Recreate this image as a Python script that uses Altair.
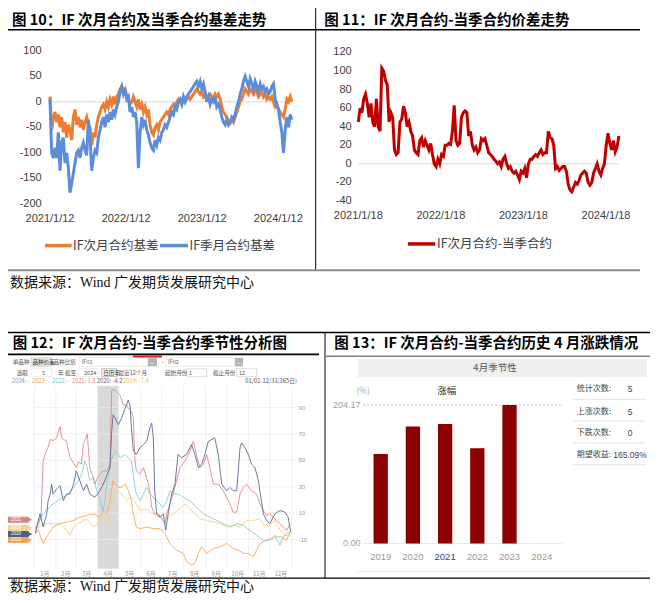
import altair as alt
import pandas as pd

# ======================= DATA =======================
# Figure 10: IF basis, sampled every 8 days from 2021/1/12
FIG10_START = "2021-01-12"
SAMPLE_FREQ = "8D"
IF_NEXT_MONTH_BASIS = [
    10, -55, -30, -20, -40, -25, -50, -30, -60, -40,
    -70, -45, -55, -75, -30, -15, -45, -30, -50, -35,
    -55, -40, -30, -45, -50, -85, -60, -70, -45, -30,
    -20, -10, -5, -15, 0, -10, 5, -5, 10, -5,
    10, 15, 25, 30, 20, 25, 10, 5, -5, 0,
    10, 0, -10, 5, -15, -5, -20, -10, -25, -15,
    -45, -60, -65, -50, -45, -55, -40, -35, -30, -25,
    -20, -25, -15, -10, -5, -10, 0, 5, 0, -5,
    5, 0, 5, 10, 5, 10, 15, 20, 25, 20,
    15, 20, 10, 15, 5, 10, 15, 10, 5, 15,
    10, 15, 5, -10, -20, -25, -30, -38, -42, -35,
    -40, -30, -20, -10, 0, 5, 15, 25, 20, 15,
    25, 20, 15, 25, 20, 10, 15, 20, 10, 15,
    5, 10, 5, 10, 0, -10, -5, -15, -20, -25,
    -30, -15, 5, 0, 10, 0,
]
IF_QUARTER_MONTH_BASIS = [
    5, -100, -110, -90, -110, -60, -135, -80, -70, -120,
    -100, -130, -178, -160, -140, -120, -100, -95, -110, -90,
    -80, -95, -105, -35, -70, -135, -110, -95, -100, -70,
    -55, -40, -30, -50, -25, -40, -20, -35, -15, -25,
    -10, 0, 20, 30, 15, 25, 5, 10, -20, -10,
    -30, -20, -40, -130, -60, -30, -45, -35, -55, -65,
    -80, -90, -95, -75, -85, -70, -75, -60, -55, -45,
    -50, -40, -30, -20, -25, -10, -15, 0, 5, -5,
    10, 0, 10, 15, 20, 25, 30, 35, 40, 30,
    40, 25, 35, 20, 0, 10, -5, 5, 0, 10,
    -10, -5, -15, -30, -40, -45, -35, -45, -40, -30,
    -35, -25, -10, 0, 15, 25, 40, 50, 40, 30,
    45, 35, 25, 40, 30, 20, 35, 25, 30, 20,
    25, 15, 20, 30, 35, 5, -5, -15, -40, -60,
    -100, -55, -30, -50, -25, -35,
]
FIG10_YTICKS = [100, 50, 0, -50, -100, -150, -200]
FIG10_XTICK_DATES = ["2021-01-12", "2022-01-12", "2023-01-12", "2024-01-12"]
FIG10_XTICK_LABELS = ["2021/1/12", "2022/1/12", "2023/1/12", "2024/1/12"]
FIG10_SERIES = ["IF次月合约基差", "IF季月合约基差"]

# Figure 11: IF next-month minus current-quarter spread, every 8 days from 2021/1/18
FIG11_START = "2021-01-18"
IF_NEXT_MINUS_QUARTER = [
    45, 60, 55, 70, 75, 65, 50, 65, 45, 40,
    70, 40, 35, 103, 100, 90, 85, 45, 55, 50,
    15, 10, 12, 45, 48, 62, 55, 40, 45, 35,
    30, 15, 12, 10, 25, 28, 18, 25, 20, 15,
    22, 10, 0, -3, 5, 0, 10, 8, 20, 20,
    22, 21, 35, 63, 25, 20, 22, 50, 55, 57,
    55, 30, 35, 20, 15, 18, 12, 15, 27, 25,
    27, 20, 12, 10, 8, 5, 3, 0, 2, -3,
    5, 8, 0, -5, -3, -8, -10, -8, -12, -17,
    -8, -10, -5, -15, 0, 5, 5, 8, 10, 8,
    12, 15, 10, 12, 12, 35, 28, 27, 20, -5,
    -3, -7, -5, -3, -3, -8, -22, -28, -30, -25,
    -20, -22, -18, -12, -10, -8, -10, -20, -23, -20,
    -10, -5, 0, -8, -12, -5, 0, 20, 33, 22,
    15, 25, 13, 18, 30,
]
FIG11_YTICKS = [120, 100, 80, 60, 40, 20, 0, -20, -40]
FIG11_XTICK_DATES = ["2021-01-18", "2022-01-18", "2023-01-18", "2024-01-18"]
FIG11_XTICK_LABELS = ["2021/1/18", "2022/1/18", "2023/1/18", "2024/1/18"]
FIG11_SERIES = "IF次月合约-当季合约"

# Figure 12: seasonal overlay, (day of year, value)
SEASON_2021 = [(2, -1), (6, 2), (10, 8), (13, 50), (16, 55), (20, 60), (23, 66), (27, 65), (32, 67), (37, 75.7),
               (39, 67), (46, 64.5), (51, 52), (56, 48), (60, 44.5), (63, 49), (67, 47), (70, 62), (75.5, 70), (79, 44.5),
               (84, 37), (86, 32), (89, 35.7), (93.5, 39.5), (98, 42), (103, 42), (107.6, 47), (110, 103), (112, 103.75), (115, 103),
               (117, 102), (119.5, 101), (122, 99.5), (126.5, 92), (131, 92), (133.6, 89.5), (138, 87), (140.7, 82), (143, 49.5), (145, 42),
               (150, 39.5), (155, 44.5), (162, 32), (164, 27), (166.7, 14.5), (171, 9.5), (176, 9.5), (181, 5.75), (185.5, 2), (188, 9.5),
               (192.6, 17), (197, 24.5), (206.8, 44.5), (214, 49.5), (221, 57), (225.7, 64.5), (230, 54.5), (235, 44.5), (240, 47), (244.6, 54.5),
               (249, 44.5), (254, 32), (261, 32), (268, 27), (277.6, 17), (282, 10.75), (287, 10.75), (291.8, 24.5), (296.5, 29.5), (301, 32),
               (308.3, 27), (315.4, 24.5), (320, 17), (324.8, 12), (329.5, 8.25), (334, 9.5), (341.4, 5.75), (348.4, 2), (353, -0.5), (357.9, -3),
               (362.6, 1.8)]
SEASON_2020 = [(2, -5.5), (6, 4.5), (8.5, 9.5), (13, -0.5), (18, 9.5), (20, 19.5), (23, 24.5), (25, 32), (27, 24.5), (32, 28.25),
               (37, 30.75), (41.5, 19.5), (46, 24.5), (51, 24.5), (56, 32), (60, 42), (65, 34.5), (70, 27), (74.6, 32), (79, 24.5),
               (86, 22), (93.5, 27), (98, 32), (103, 38.25), (107.6, 44.5), (110, 72), (112, 84.5), (115, 82), (119.5, 77), (124, 82),
               (129, 89.5), (133.6, 95.75), (136, 92), (138, 74.5), (140.7, 57), (145, 54.5), (150, 59.5), (155, 62), (159.6, 64.5), (164, 74.5),
               (166.7, 78.25), (169, 67), (171, 27), (173.7, 9.5), (178.5, 7), (183, 9.5), (186.5, -3), (190, 9.5), (195, 24.5), (199.7, 32),
               (204, 54.5), (209, 52), (216, 54.5), (223, 62), (228, 54.5), (232.8, 44.5), (237.5, 47), (242, 54.5), (247, 64.5), (256, 67),
               (261, 54.5), (265.8, 32), (273, 27), (277.6, 29.5), (282, 27), (287, 27), (291.8, 59.5), (294, 63.25), (298.9, 59.5), (303.6, 54.5),
               (308.3, 47), (313, 44.5), (317.8, 34.5), (324.8, 9.5), (329.5, 4.5), (334, 2), (341.4, 9.5), (348.4, 12), (355.5, 10.75), (360, 7),
               (363.5, -4.2)]
SEASON_2022 = [(2, -3), (6, 2), (13, 9.5), (20, 13.25), (27, 17), (34.5, 19.5), (41.5, 22), (48.6, 24.5), (56, 29.5), (63, 34.5),
               (67.5, 39.5), (72, 49.5), (75.5, 44.5), (79, 34.5), (84, 37), (89, 27), (93.5, 19.5), (98, 12), (100.6, 19.5), (103, 32),
               (107.6, 47), (112, 54.5), (117, 57), (122, 52), (129, 54.5), (133.6, 52), (138, 49.5), (143, 29.5), (145, 24.5), (150, 19.5),
               (155, 24.5), (159.6, 29.5), (164, 24.5), (169, 22), (173.7, 19.5), (178.5, 17), (183, 14.5), (188, 19.5), (192.6, 27), (197, 24.5),
               (204, 24.5), (211.5, 22), (221, 19.5), (230, 14.5), (240, 9.5), (249, 7), (258.7, 4.5), (268, 2), (277.6, -0.5), (287, 2),
               (296.5, 0.75), (306, -3), (315.4, -6.75), (324.8, -10.5), (334, -10.5), (341.4, -6.75), (348.4, -14.25), (353, -8), (357.9, -5.5), (362.6, -4.25)]
SEASON_2023 = [(2, -5.5), (6, -3), (13, -13), (18, -8), (27, -0.5), (37, 2), (46, 3.25), (56, 4.5), (65, 7), (74.6, 8.25),
               (84, 9.5), (93.5, 7), (98, 12), (103, 9.5), (107.6, 19.5), (112, 34.5), (115, 32), (119.5, 29.5), (124, 29.5), (129, 32),
               (133.6, 27), (138, 19.5), (140.7, 9.5), (145, -0.5), (150, -1.75), (159.6, -0.5), (169, -1.75), (178.5, -1.75), (185.5, -5.5), (192.6, -13),
               (202, -18), (211.5, -20.5), (216, -26.75), (223, -29.25), (228, -28), (232.8, -20.5), (237.5, -15.5), (244.6, -20.5), (254, -16.75), (263.5, -15.5),
               (273, -13), (282, -16.75), (289.4, -18), (296.5, -20.5), (303.6, -20.5), (310.7, -23), (315.4, -18), (320, -13), (329.5, -10.5), (336.6, -9.25),
               (343.7, -8), (350.8, -8), (357.9, -10.5), (362.6, -4.25)]
SEASON_2019 = [(2, -4.25), (8.5, 0.75), (18, 2), (27, 2), (37, 2), (46, -3), (51, -6.75), (56, -0.5), (63, 2), (70, 4.5),
               (74.6, 5.75), (84, -0.5), (91, 2), (98, 7), (105, 2), (112, 24.5), (117, 27), (124, 24.5), (131, 19.5), (138, 22),
               (145, 17), (150, 12), (159.6, 13.25), (169, 9.5), (178.5, 7), (188, 5.75), (197, 9.5), (206.8, 13.25), (214, 17), (218.6, 14.5),
               (225.7, 10.75), (235, 5.75), (244.6, 4.5), (254, 3.25), (263.5, 2), (273, -0.5), (282, 0.75), (291.8, -0.5), (301, 4.5), (310.7, 4.5),
               (320, 5.75), (327, -0.5), (334, 0.75), (341.4, 4.5), (348.4, -3), (355.5, -6.75), (362.6, -7.4)]
SEASON_LEGEND = ["2024: -", "2023: -", "2022: -", "2021: 1.8", "2020: -4.2", "2019: -7.4"]
SEASON_FLAGS = [("2021", 5.0), ("2019", -1.2), ("2020", -5.9), ("2023", -10.4)]
MONTH_STARTS = [0, 31, 59, 90, 120, 151, 181, 212, 243, 273, 304, 334, 365]
MONTH_MIDS = [15.5, 45, 74.5, 105, 135.5, 166, 196.5, 227.5, 258, 288.5, 319, 349.5]
MONTH_LABELS = ["1月", "2月", "3月", "4月", "5月", "6月", "7月", "8月", "9月", "10月", "11月", "12月"]
FIG12_YTICKS = [90, 70, 50, 30, 10, -10]
APRIL_WINDOW = (90, 120)

# Figure 13: April change of the spread by year (%)
YEARS = ["2019", "2020", "2021", "2022", "2023", "2024"]
APRIL_CHANGE = [132.0, 172.4, 176.3, 140.6, 204.17]
FIG13_YTICKS = [(204.17, "204.17"), (0, "0.00")]
STAT_LABELS = ["统计次数:", "上涨次数:", "下跌次数:", "期望收益:"]
STAT_VALUES = ["5", "5", "0", "165.09%"]

TITLES = [
    "图 10：IF 次月合约及当季合约基差走势",
    "图 11：IF 次月合约-当季合约价差走势",
    "图 12：IF 次月合约-当季合约季节性分析图",
    "图 13：IF 次月合约-当季合约历史 4 月涨跌情况",
]
SOURCE = "数据来源：Wind  广发期货发展研究中心"

# ======================= HELPERS =======================
# reference-page pixel -> chart pixel (page has an 8px margin)
def PX(v):
    return v - 8


def PY(v):
    if v <= 270.5:
        return 12.5 + 0.9693 * (v - 12.8)
    return 0.989 * v - 5.2


ONE = pd.DataFrame({"k": [0]})
CJK = "Noto Sans CJK SC"
LAT = "Liberation Sans"
SERIF = "Liberation Serif, Noto Sans CJK SC"


def text(t, x, y, size=11, color="#000", align="left", weight="normal", font=CJK):
    return alt.Chart(ONE).mark_text(
        text=t, align=align, baseline="middle", fontSize=size, color=color,
        fontWeight=weight, font=font,
    ).encode(x=alt.value(PX(x)), y=alt.value(PY(y)))


def hline(x1, x2, y, color="#000", width=1.0, dash=None):
    kw = dict(color=color, strokeWidth=width)
    if dash:
        kw["strokeDash"] = dash
    return alt.Chart(ONE).mark_rule(**kw).encode(
        x=alt.value(PX(x1)), x2=alt.value(PX(x2)), y=alt.value(PY(y)))


def vline(x, y1, y2, color="#000", width=1.0):
    return alt.Chart(ONE).mark_rule(color=color, strokeWidth=width).encode(
        x=alt.value(PX(x)), y=alt.value(PY(y1)), y2=alt.value(PY(y2)))


def box(x1, x2, y1, y2, fill="#fff", stroke=None, sw=0.6):
    kw = dict(fill=fill)
    if stroke:
        kw.update(stroke=stroke, strokeWidth=sw)
    return alt.Chart(ONE).mark_rect(**kw).encode(
        x=alt.value(PX(x1)), x2=alt.value(PX(x2)), y=alt.value(PY(y1)), y2=alt.value(PY(y2)))


def ms(s):
    return int(pd.Timestamp(s).value // 10**6)


# ======================= FIGURE 10 =======================
xs10 = alt.Scale(domain=[ms("2021-01-12"), ms("2024-01-12")], range=[PX(50), PX(278.3)])
ys10 = alt.Scale(domain=[-200, 100], range=[PY(202), PY(44)], nice=False, zero=False)
d10a = pd.date_range(FIG10_START, periods=len(IF_NEXT_MONTH_BASIS), freq=SAMPLE_FREQ).strftime("%Y-%m-%d")
d10b = pd.date_range(FIG10_START, periods=len(IF_QUARTER_MONTH_BASIS), freq=SAMPLE_FREQ).strftime("%Y-%m-%d")
df10a = pd.DataFrame({"date": d10a, "v": IF_NEXT_MONTH_BASIS})
df10b = pd.DataFrame({"date": d10b, "v": IF_QUARTER_MONTH_BASIS})

zero10 = alt.Chart(pd.DataFrame({"a": [d10a[0]], "b": [d10a[-1]], "y": [0]})).mark_rule(
    color="#d9d9d9", strokeWidth=1).encode(
    x=alt.X("a:T", scale=xs10, axis=None), x2="b:T", y=alt.Y("y:Q", scale=ys10, axis=None))
line10a = alt.Chart(df10a).mark_line(color="#ED7D31", strokeWidth=3).encode(
    x=alt.X("date:T", scale=xs10, axis=None), y=alt.Y("v:Q", scale=ys10, axis=None))
line10b = alt.Chart(df10b).mark_line(color="#5B8DDB", strokeWidth=3).encode(
    x=alt.X("date:T", scale=xs10, axis=None), y=alt.Y("v:Q", scale=ys10, axis=None))
ylab10 = alt.Chart(pd.DataFrame({"v": FIG10_YTICKS, "t": [str(v) for v in FIG10_YTICKS]})).mark_text(
    align="right", baseline="middle", fontSize=11, font=LAT, color="#404040").encode(
    x=alt.value(PX(41.7)), y=alt.Y("v:Q", scale=ys10, axis=None), text="t:N")
xlab10 = alt.Chart(pd.DataFrame({"d": FIG10_XTICK_DATES, "t": FIG10_XTICK_LABELS})).mark_text(
    align="center", baseline="middle", fontSize=11, font=LAT, color="#404040").encode(
    x=alt.X("d:T", scale=xs10, axis=None), y=alt.value(PY(217.3)), text="t:N")
panel10 = alt.layer(zero10, line10a, line10b, ylab10, xlab10)

# ======================= FIGURE 11 =======================
xs11 = alt.Scale(domain=[ms("2021-01-18"), ms("2024-01-18")], range=[PX(358.3), PX(606)])
ys11 = alt.Scale(domain=[-40, 120], range=[PY(199), PY(45.7)], nice=False, zero=False)
d11 = pd.date_range(FIG11_START, periods=len(IF_NEXT_MINUS_QUARTER), freq=SAMPLE_FREQ).strftime("%Y-%m-%d")
df11 = pd.DataFrame({"date": d11, "v": IF_NEXT_MINUS_QUARTER})
zero11 = alt.Chart(pd.DataFrame({"a": [d11[0]], "b": [d11[-1]], "y": [0]})).mark_rule(
    color="#d9d9d9", strokeWidth=1).encode(
    x=alt.X("a:T", scale=xs11, axis=None), x2="b:T", y=alt.Y("y:Q", scale=ys11, axis=None))
line11 = alt.Chart(df11).mark_line(color="#C00000", strokeWidth=3).encode(
    x=alt.X("date:T", scale=xs11, axis=None), y=alt.Y("v:Q", scale=ys11, axis=None))
ylab11 = alt.Chart(pd.DataFrame({"v": FIG11_YTICKS, "t": [str(v) for v in FIG11_YTICKS]})).mark_text(
    align="right", baseline="middle", fontSize=11, font=LAT, color="#404040").encode(
    x=alt.value(PX(351.7)), y=alt.Y("v:Q", scale=ys11, axis=None), text="t:N")
xlab11 = alt.Chart(pd.DataFrame({"d": FIG11_XTICK_DATES, "t": FIG11_XTICK_LABELS})).mark_text(
    align="center", baseline="middle", fontSize=11, font=LAT, color="#404040").encode(
    x=alt.X("d:T", scale=xs11, axis=None), y=alt.value(PY(215)), text="t:N")
panel11 = alt.layer(zero11, line11, ylab11, xlab11)

# ======================= FIGURE 12 =======================
xs12 = alt.Scale(domain=[0, 365], range=[PX(34), PX(291.7)], nice=False, zero=False)
ys12 = alt.Scale(domain=[-10, 90], range=[PY(542.7), PY(409.3)], nice=False, zero=False)
Y_LO, Y_HI = -32.2, 106.5

shade12 = alt.Chart(pd.DataFrame({"a": [APRIL_WINDOW[0]], "b": [APRIL_WINDOW[1]], "lo": [Y_LO], "hi": [Y_HI]})).mark_rect(
    color="#d9d9d9").encode(
    x=alt.X("a:Q", scale=xs12, axis=None), x2="b:Q",
    y=alt.Y("lo:Q", scale=ys12, axis=None), y2="hi:Q")
hgrid12 = alt.Chart(pd.DataFrame({"v": FIG12_YTICKS, "a": 0, "b": 372})).mark_rule(
    color="#ececec", strokeWidth=0.8).encode(
    x=alt.X("a:Q", scale=xs12, axis=None), x2="b:Q", y=alt.Y("v:Q", scale=ys12, axis=None))
vgrid12 = alt.Chart(pd.DataFrame({"d": MONTH_STARTS, "lo": Y_LO, "hi": Y_HI})).mark_rule(
    color="#ececec", strokeWidth=0.8).encode(
    x=alt.X("d:Q", scale=xs12, axis=None), y=alt.Y("lo:Q", scale=ys12, axis=None), y2="hi:Q")


def season_line(pairs, color):
    df = pd.DataFrame(pairs, columns=["day", "v"])
    return alt.Chart(df).mark_line(color=color, strokeWidth=1, opacity=0.9).encode(
        x=alt.X("day:Q", scale=xs12, axis=None), y=alt.Y("v:Q", scale=ys12, axis=None))


lines12 = [
    season_line(SEASON_2019, "#EFD486"),
    season_line(SEASON_2023, "#F2A85C"),
    season_line(SEASON_2022, "#86CFCF"),
    season_line(SEASON_2021, "#E0888A"),
    season_line(SEASON_2020, "#5D6C92"),
]
mlab12 = alt.Chart(pd.DataFrame({"d": MONTH_MIDS, "t": MONTH_LABELS})).mark_text(
    fontSize=6, color="#999999", font=CJK, baseline="middle").encode(
    x=alt.X("d:Q", scale=xs12, axis=None), y=alt.value(PY(577.3)), text="t:N")
ylab12 = alt.Chart(pd.DataFrame({"v": FIG12_YTICKS, "t": [str(v) for v in FIG12_YTICKS]})).mark_text(
    fontSize=6, color="#9a9a9a", font=LAT, align="left", baseline="middle").encode(
    x=alt.value(PX(298.5)), y=alt.Y("v:Q", scale=ys12, axis=None), text="t:N")
flag_df = pd.DataFrame({
    "t": [f[0] for f in SEASON_FLAGS],
    "v": [f[1] for f in SEASON_FLAGS],
    "lo": [f[1] - 2.3 for f in SEASON_FLAGS],
    "hi": [f[1] + 2.3 for f in SEASON_FLAGS],
    "c": ["#D98585", "#F0D690", "#4E5E88", "#F0A658"],
})
flags12 = alt.Chart(flag_df).mark_rect(cornerRadius=1.5).encode(
    x=alt.value(PX(3)), x2=alt.value(PX(29)),
    y=alt.Y("lo:Q", scale=ys12, axis=None), y2="hi:Q",
    color=alt.Color("c:N", scale=None))
flagtip12 = alt.Chart(flag_df).mark_point(shape="triangle-right", filled=True, size=14, opacity=1).encode(
    x=alt.value(PX(30.5)), y=alt.Y("v:Q", scale=ys12, axis=None), color=alt.Color("c:N", scale=None))
flagtxt12 = alt.Chart(flag_df).mark_text(fontSize=4.5, color="#ffffff", font=LAT, baseline="middle").encode(
    x=alt.value(PX(16)), y=alt.Y("v:Q", scale=ys12, axis=None), text="t:N")
panel12 = alt.layer(shade12, hgrid12, vgrid12, *lines12, mlab12, ylab12, flags12, flagtip12, flagtxt12)

# ======================= FIGURE 13 =======================
xs13 = alt.Scale(domain=YEARS, range=[PX(364.6), PX(557.8)], paddingInner=0, paddingOuter=0)
ys13 = alt.Scale(domain=[0, 204.17], range=[PY(546.7), PY(406.7)], nice=False, zero=True)
base13 = pd.DataFrame({"yr": YEARS[:len(APRIL_CHANGE)], "v": APRIL_CHANGE})
zero13 = alt.Chart(pd.DataFrame({"v": [0]})).mark_rule(color="#e8e8e8").encode(
    x=alt.value(PX(363)), x2=alt.value(PX(562)), y=alt.Y("v:Q", scale=ys13, axis=None))
top13 = alt.Chart(pd.DataFrame({"v": [204.17]})).mark_rule(color="#c4c4c4", strokeDash=[2, 2]).encode(
    x=alt.value(PX(363)), x2=alt.value(PX(562)), y=alt.Y("v:Q", scale=ys13, axis=None))
bars13 = alt.Chart(base13).mark_bar(width=14.3, color="#8B0000").encode(
    x=alt.X("yr:N", scale=xs13, axis=None), y=alt.Y("v:Q", scale=ys13, axis=None))
ylab13 = alt.Chart(pd.DataFrame({"v": [t[0] for t in FIG13_YTICKS], "t": [t[1] for t in FIG13_YTICKS]})).mark_text(
    align="right", baseline="middle", fontSize=9, color="#a0a0a0", font=LAT).encode(
    x=alt.value(PX(360.5)), y=alt.Y("v:Q", scale=ys13, axis=None), text="t:N")
xlab13 = alt.Chart(pd.DataFrame({"yr": YEARS, "c": ["#9a9a9a", "#9a9a9a", "#2B3F8F", "#9a9a9a", "#9a9a9a", "#9a9a9a"]})).mark_text(
    baseline="middle", fontSize=9.5, font=LAT).encode(
    x=alt.X("yr:N", scale=xs13, axis=None), y=alt.value(PY(560.3)), text="yr:N",
    color=alt.Color("c:N", scale=None))
panel13 = alt.layer(zero13, top13, bars13, ylab13, xlab13)

# ======================= FRAME / TEXT =======================
deco = [
    # Wind UI background pieces (figure 12)
    box(31, 51.7, 359, 367.6, fill="#e4e4e4", stroke="#c8c8c8"),
    box(79, 148, 359, 367.6, fill="#ffffff", stroke="#dddddd"),
    box(148, 157, 359, 367.6, fill="#b4b4b4"),
    box(166, 235, 359, 367.6, fill="#ffffff", stroke="#dddddd"),
    box(235, 243, 359, 367.6, fill="#b4b4b4"),
    box(31.7, 51.7, 370, 378, fill="#ffffff", stroke="#dddddd"),
    box(78, 98, 370, 378, fill="#ffffff", stroke="#dddddd"),
    box(101.7, 116.7, 370, 378, fill="#f2f2f2", stroke="#9a9a9a"),
    box(186.7, 206.7, 370, 378, fill="#ffffff", stroke="#c8c8c8"),
    box(236.7, 256.7, 370, 378, fill="#ffffff", stroke="#c8c8c8"),
    # Figure 13 header band
    box(358, 647, 360, 378.5, fill="#efefef"),
]
layers = deco + [panel12, panel10, panel11, panel13]

# frame lines
layers += [
    hline(3, 315, 22.3, width=1.6),
    hline(316, 640, 22.3, width=1.6),
    vline(315.7, 0, 270),
    hline(8, 640, 270.5, color="#8c8c8c", width=2),
    hline(8, 653, 333.3, width=1.4),
    vline(325, 333.3, 581.7),
    hline(3, 319, 355.5, width=1.8),
    hline(133, 162, 357.6, color="#d42020", width=2),
    hline(326, 653, 357.3, color="#808080", width=1.5),
    hline(8, 653, 581.7, width=1.4),
    hline(358, 647, 575, color="#ececec"),
]

# figure 13 separators
for ysep in [401, 423, 445, 467]:
    layers.append(hline(573, 646, ysep, color="#e4e4e4"))

# titles and sources
layers += [
    text(TITLES[0], 12, 12.8, size=14.5, weight="bold"),
    text(TITLES[1], 324.3, 12.8, size=14.5, weight="bold"),
    text(TITLES[2], 12.7, 345, size=14.5, weight="bold"),
    text(TITLES[3], 334.3, 345, size=14.5, weight="bold"),
    text(SOURCE, 10, 283, size=14, font=SERIF, color="#111"),
    text(SOURCE, 10, 590.5, size=14, font=SERIF, color="#111"),
]

# legends (figures 10, 11)
layers += [
    hline(45, 71.7, 245, color="#ED7D31", width=3.5),
    text(FIG10_SERIES[0], 73, 245, size=12.5, color="#404040"),
    hline(160, 188, 245, color="#5B8DDB", width=3.5),
    text(FIG10_SERIES[1], 189.5, 245, size=12.5, color="#404040"),
    hline(408, 435, 243.3, color="#C00000", width=3.5),
    text(FIG11_SERIES, 437, 243.3, size=12.5, color="#404040"),
]

# Wind UI text (figure 12)
ui = [
    ("单品种", 12.7, 363.3, "#555"), ("品种价差", 32.5, 363.3, "#333"), ("品种比值", 53.5, 363.3, "#555"),
    ("IF01", 81.7, 363.3, "#666"), ("...", 150, 363.3, "#fff"), ("-", 161.7, 363.3, "#666"),
    ("IF02", 168, 363.3, "#666"), ("...", 237, 363.3, "#fff"),
    ("选取", 16.7, 374, "#555"), ("5", 42, 374, "#555"), ("年", 58, 374, "#555"), ("截至", 65, 374, "#555"),
    ("2024", 84, 374, "#555"), ("日历年", 103.2, 374, "#333"), ("最近12个月", 118.5, 374, "#555"),
    ("起始月份", 165, 374, "#555"), ("1", 189, 374, "#555"), ("截止月份", 213, 374, "#555"), ("12", 239, 374, "#555"),
]
for t, x, y, c in ui:
    layers.append(text(t, x, y, size=5.6, color=c))
leg_x = [11.7, 31.7, 51.7, 71.7, 96.7, 123]
leg_c = ["#7D9CC6", "#F0A24C", "#70C8C8", "#E5898A", "#5B6275", "#E5C45E"]
for t, x, c in zip(SEASON_LEGEND, leg_x, leg_c):
    layers.append(text(t, x, 382.7, size=5.8, color=c))
layers.append(text("01/01-12/31(365日)", 297, 382.7, size=5.8, color="#555", align="right"))

# figure 13 texts
layers += [
    text("4月季节性", 495, 369.5, size=9.5, color="#555", align="center"),
    text("(%)", 363, 393, size=8.5, color="#aaa", align="center"),
    text("涨幅", 446.7, 393, size=9.5, color="#333", align="center"),
]
for i, (lab, val) in enumerate(zip(STAT_LABELS, STAT_VALUES)):
    yy = [391, 413.3, 435.3, 457.7][i]
    layers.append(text(lab, 576.7, yy, size=8, color="#444"))
    layers.append(text(val, 630, yy, size=8.5, color="#444", align="center", font=LAT))

chart = alt.layer(*layers).resolve_scale(
    x="independent", y="independent"
).properties(
    width=642, height=587, padding=0,
    autosize=alt.AutoSizeParams(type="none"),
    background="#ffffff",
).configure_view(stroke=None)

chart.save("out.html", embed_options={"renderer": "svg", "actions": False})
